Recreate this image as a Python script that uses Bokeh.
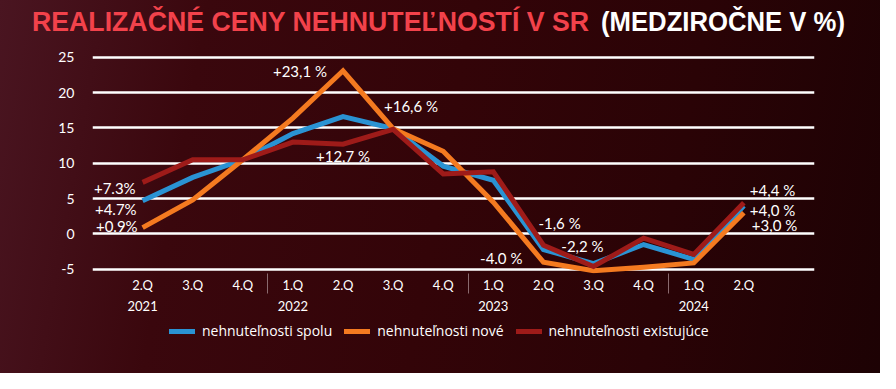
from bokeh.plotting import figure
from bokeh.layouts import column
from bokeh.models import (Range1d, FixedTicker, LinearAxis, Legend, LegendItem,
                          ColumnDataSource, Div)
from bokeh.embed import file_html
from bokeh.resources import INLINE

# ---------------- data ----------------
title_main = "REALIZAČNÉ CENY NEHNUTEĽNOSTÍ V SR"
title_sub = "(MEDZIROČNE V %)"
quarters = ["2.Q", "3.Q", "4.Q", "1.Q", "2.Q", "3.Q", "4.Q",
            "1.Q", "2.Q", "3.Q", "4.Q", "1.Q", "2.Q"]
years = ["2021", "2022", "2023", "2024"]
year_start_idx = [0, 3, 7, 11]
y_ticks = [-5, 0, 5, 10, 15, 20, 25]
y_tick_labels = ["-5", "0", "5", "10", "15", "20", "25"]

spolu = [4.7, 8.0, 10.5, 14.2, 16.6, 14.9, 9.6, 7.6, -2.2, -4.2, -1.5, -3.6, 4.0]
nove = [0.9, 4.8, 10.5, 16.4, 23.1, 14.9, 11.7, 4.5, -4.0, -5.2, -4.7, -4.1, 3.0]
existujuce = [7.3, 10.5, 10.5, 13.0, 12.7, 14.8, 8.5, 8.8, -1.6, -4.6, -0.6, -2.9, 4.4]

series_names = ["nehnuteľnosti spolu", "nehnuteľnosti nové", "nehnuteľnosti existujúce"]

label_texts = ["+7.3%", "+4.7%", "+0.9%", "+23,1 %", "+16,6 %", "+12,7 %",
               "-4.0 %", "-1,6 %", "-2,2 %", "+4,4 %", "+4,0 %", "+3,0 %"]
label_series = ["existujuce", "spolu", "nove", "nove", "spolu", "existujuce",
                "nove", "existujuce", "spolu", "existujuce", "spolu", "nove"]
label_idx = [0, 0, 0, 4, 4, 4, 8, 8, 8, 12, 12, 12]

# ---------------- styles ----------------
GRADIENT = ("linear-gradient(100deg, #4a1521 0%, #3a070d 22%, #330408 50%, "
            "#2a0306 75%, #1d0204 100%)")
FONT = "Lato"
LEG_FONT = "Open Sans"
colors = ["#2a93d3", "#f47a20", "#9e1b19"]
label_dx = [-7, -6, -5, -16, 41, 0, -21, -5, 39, 6, 6, 8]
label_dy = [6, 8, -2, 0, -11, 12, -4, -22, -3, -13, 4, 12]
label_align = ["right", "right", "right", "right", "left", "center",
               "right", "left", "center", "left", "left", "left"]
W = 880
BL, BR = 92, 66

# ---------------- title (inline svg text) ----------------
title_svg = (
    f'<svg xmlns="http://www.w3.org/2000/svg" width="{W}" height="44" '
    f'style="display:block">'
    f'<text x="32" y="31" fill="#f2424b" font-family="Roboto" font-weight="700" '
    f'font-size="27px" textLength="557" lengthAdjust="spacingAndGlyphs">{title_main}</text>'
    f'<text x="601" y="31" fill="#ffffff" font-family="Roboto" font-weight="700" '
    f'font-size="27px" textLength="244" lengthAdjust="spacingAndGlyphs">{title_sub}</text>'
    f'</svg>')
title_div = Div(text=title_svg, width=W, height=44, margin=0,
                styles={"padding": "0", "margin": "0"})

# ---------------- main chart ----------------
x = list(range(len(quarters)))
series = {"spolu": spolu, "nove": nove, "existujuce": existujuce}

p = figure(width=W, height=276, output_backend="svg", toolbar_location=None,
           x_range=Range1d(-1.0, 13.41), y_range=Range1d(-5.6, 25.4),
           min_border_left=BL, min_border_right=BR, min_border_top=10,
           min_border_bottom=47, x_axis_location=None, margin=0)
p.background_fill_color = None
p.border_fill_color = None
p.outline_line_color = None
p.xgrid.visible = False
p.ygrid.grid_line_color = "white"
p.ygrid.grid_line_width = 2.5
p.ygrid.ticker = FixedTicker(ticks=y_ticks)

ya = p.yaxis[0]
ya.ticker = FixedTicker(ticks=y_ticks)
ya.major_label_overrides = dict(zip(y_ticks, y_tick_labels))
ya.axis_line_color = None
ya.major_tick_line_color = None
ya.minor_tick_line_color = None
ya.major_label_text_color = "white"
ya.major_label_text_font = FONT
ya.major_label_text_font_size = "14px"
ya.major_label_standoff = 12

xa = LinearAxis(ticker=FixedTicker(ticks=x, minor_ticks=[2.5, 6.5, 10.5]),
                major_label_overrides={i: q for i, q in enumerate(quarters)})
xa.axis_line_color = None
xa.major_tick_line_color = None
xa.major_tick_out = 0
xa.minor_tick_out = 20
xa.minor_tick_in = 0
xa.minor_tick_line_color = "#8a6a6e"
xa.minor_tick_line_width = 1
xa.major_label_text_color = "white"
xa.major_label_text_font = FONT
xa.major_label_text_font_size = "13px"
xa.major_label_standoff = -17
p.add_layout(xa, "below")

xa2 = LinearAxis(ticker=FixedTicker(ticks=year_start_idx),
                 major_label_overrides={i: y for i, y in zip(year_start_idx, years)})
xa2.axis_line_color = None
xa2.major_tick_line_color = None
xa2.minor_tick_line_color = None
xa2.major_tick_out = 0
xa2.major_label_text_color = "white"
xa2.major_label_text_font = FONT
xa2.major_label_text_font_size = "13px"
xa2.major_label_standoff = 5
p.add_layout(xa2, "below")

for key, c in zip(["spolu", "nove", "existujuce"], colors):
    p.line(x, series[key], line_color=c, line_width=5, line_join="miter")

lx = label_idx
ly = [series[s][i] for s, i in zip(label_series, label_idx)]
src = ColumnDataSource(dict(x=lx, y=ly, text=label_texts, dx=label_dx, dy=label_dy,
                            align=label_align))
p.text(x="x", y="y", text="text", x_offset="dx", y_offset="dy", text_align="align",
       source=src, text_baseline="middle", text_color="white",
       text_font_size="15px", text_font={"value": FONT})

# ---------------- legend strip ----------------
lf = figure(width=W, height=53, output_backend="svg", toolbar_location=None,
            x_range=Range1d(-1.0, 13.41), y_range=Range1d(1000, 1001),
            x_axis_location=None, y_axis_location=None,
            min_border_left=BL, min_border_right=BR, min_border_top=0,
            min_border_bottom=0, margin=0)
lf.background_fill_color = None
lf.border_fill_color = None
lf.outline_line_color = None
lf.xgrid.visible = False
lf.ygrid.visible = False
leg_renderers = [lf.line(x, series[key], line_color=c, line_width=5, line_cap="round")
                 for key, c in zip(["spolu", "nove", "existujuce"], colors)]
legend = Legend(items=[LegendItem(label=n, renderers=[r])
                       for n, r in zip(series_names, leg_renderers)],
                orientation="horizontal", location=(77, 33),
                background_fill_alpha=0, border_line_color=None,
                label_text_color="white", label_text_font=LEG_FONT,
                label_text_font_size="14px", glyph_width=26, glyph_height=14,
                spacing=12, label_standoff=7, margin=0, padding=4)
lf.add_layout(legend, "center")

layout = column(title_div, p, lf, spacing=0)
layout.styles = {"background": GRADIENT}

open("out.html", "w").write(file_html(layout, INLINE))
